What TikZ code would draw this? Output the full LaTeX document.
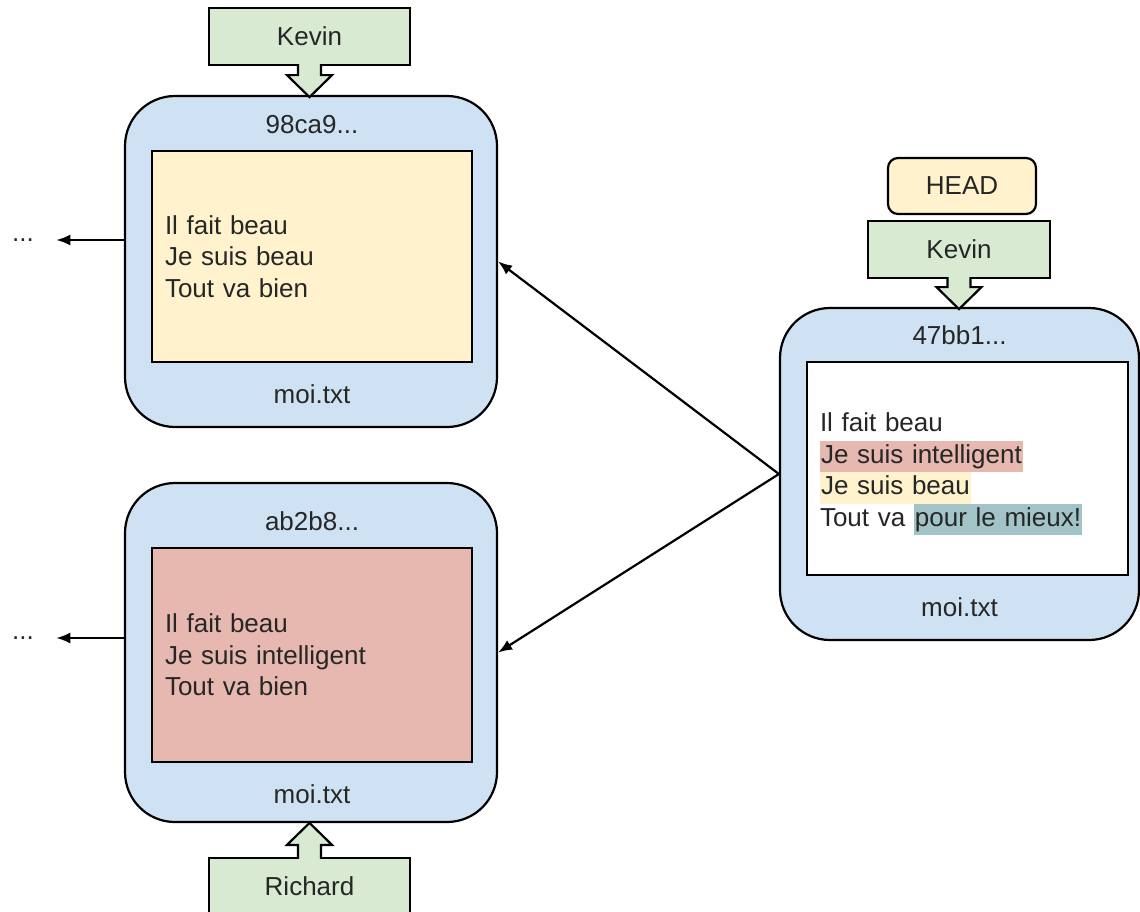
\documentclass[tikz,border=0pt]{standalone}
\usepackage{fontspec}
\setmainfont{Liberation Sans}
\usetikzlibrary{positioning,arrows.meta}

\definecolor{bleuCommit}{HTML}{CFE2F3}
\definecolor{jauneFichier}{HTML}{FFF2CC}
\definecolor{rougeFichier}{HTML}{E6B8AF}
\definecolor{vertBranche}{HTML}{D9EAD3}
\definecolor{bleuAjout}{HTML}{A2C4C9}

\newcommand{\surligne}[2]{{\setlength{\fboxsep}{0pt}\colorbox{#1}{\strut\kern1pt #2\kern1pt}}}

\tikzset{pics/fleche/.style={code={
  \filldraw[fill=vertBranche,line join=miter] (-11.5,-2) -- (-11.5,#1) -- (-22.5,#1) -- (0,#1+22) -- (22.5,#1) -- (11.5,#1) -- (11.5,-2);}}}

\begin{document}
\begin{tikzpicture}[x=1pt,y=-1pt,line width=2.2pt,
  every node/.style={font=\fontsize{26}{31.5}\selectfont,text=black!85},
  commit/.style={draw,fill=bleuCommit,rounded corners=50pt},
  fichier/.style={draw,align=left,inner xsep=13pt,inner ysep=0pt},
  branche/.style={draw,fill=vertBranche,minimum width=#1,minimum height=57pt},
  etiq/.style={inner sep=0pt},
  lien/.style={-{Latex[length=14pt,width=11pt]}}]
  \path[use as bounding box] (0,0) rectangle (1140,911);
  \clip (0,0) rectangle (1140,911);
  % commits
  \node[commit,minimum width=372pt,minimum height=331pt] (c1) at (311,261.5) {};
  \node[commit,minimum width=372pt,minimum height=339pt] (c2) at (311,652.5) {};
  \node[commit,minimum width=359pt,minimum height=332pt] (c3) at (959.5,474) {};
  % contenu de moi.txt
  \node[fichier,fill=jauneFichier,text width=294pt,minimum height=211pt] (f1) at (312,256.5)
    {Il fait beau\\Je suis beau\\Tout va bien};
  \node[fichier,fill=rougeFichier,text width=294pt,minimum height=214pt] (f2) at (312,655)
    {Il fait beau\\Je suis intelligent\\Tout va bien};
  \node[fichier,fill=white,text width=295pt,minimum height=213pt] (f3) at (967.5,468.5)
    {\rule{0pt}{30pt}Il fait beau\\\surligne{rougeFichier}{Je suis intelligent}\\\surligne{jauneFichier}{Je suis beau}\\Tout va \surligne{bleuAjout}{pour le mieux!}};
  \node[etiq,above=15pt of f1] (h1) {98ca9...};
  \node[etiq,below=20pt of f1] (n1) {moi.txt};
  \node[etiq,above=15pt of f2] (h2) {ab2b8...};
  \node[etiq,below=20pt of f2] (n2) {moi.txt};
  \node[etiq,above=15pt of f3,xshift=-8pt] (h3) {47bb1...};
  \node[etiq,below=20pt of f3,xshift=-8pt] (n3) {moi.txt};
  % branches
  \node[branche=201pt] (k1) at (309.5,36.5) {Kevin};
  \node[branche=201pt,minimum height=56pt] (r1) at (309.5,886) {Richard};
  \node[branche=182pt] (k3) at (959,249.5) {Kevin};
  \node[draw,fill=jauneFichier,rounded corners=10pt,minimum width=148pt,minimum height=56pt] (head) at (962,186) {HEAD};
  \pic at (k1.south) {fleche=9};
  \pic at (k3.south) {fleche=8};
  \pic[yscale=-1] at (r1.north) {fleche=12};
  % parents
  \draw[lien] (c3.west) -- (c1.east);
  \draw[lien] (c3.west) -- (c2.east);
  \node (p1) at (23,240) {...};
  \node (p2) at (23,638) {...};
  \draw[lien] (c1.west |- p1) -- ([xshift=18pt]p1.east);
  \draw[lien] (c2.west |- p2) -- ([xshift=18pt]p2.east);
\end{tikzpicture}
\end{document}
